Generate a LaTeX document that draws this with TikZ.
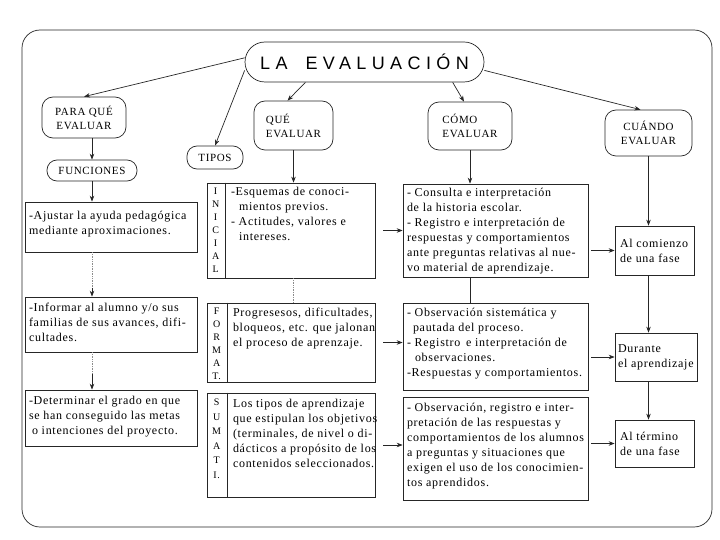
\documentclass[tikz,border=0pt]{standalone}
\usepackage{fontspec}
\setmainfont{Liberation Serif}
\newfontfamily\boxfont[LetterSpace=6]{Liberation Serif}
\newfontfamily\titlefont[LetterSpace=30]{Liberation Sans}
\usetikzlibrary{arrows.meta}
\begin{document}
\begin{tikzpicture}[x=1pt,y=-1pt,
  line width=0.7pt, draw=black!85,
  pill/.style={draw=black!85, rounded corners=#1, inner sep=0pt, font=\boxfont\fontsize{11}{14}\selectfont},
  pill/.default=11pt,
  box/.style={draw=black!85, inner sep=0pt},
  txt/.style={inner sep=0pt, align=left, anchor=north west, font=\boxfont\fontsize{12}{15}\selectfont},
  vl/.style={inner sep=0pt, align=center, anchor=north, font=\boxfont\fontsize{10}{13}\selectfont},
  arr/.style={draw=black!85, -{Stealth[length=6pt,width=4.5pt]}},
  dotl/.style={draw=black!45, densely dotted},
]
\useasboundingbox (0,0) rectangle (720,540);
% frame
\draw[rounded corners=18pt] (22,30) rectangle (712,527);

% title and first-level nodes
\node[pill=20pt, minimum width=239pt, minimum height=40pt, font=\titlefont\fontsize{18}{20}\selectfont, fill=white] (title) at (364.5,62) {LA\hspace{18pt}EVALUACIÓN};
\node[pill, align=center, minimum width=84pt, minimum height=41pt] (paraque) at (84,117.5) {PARA QUÉ\\EVALUAR};
\node[pill=10pt, minimum width=90pt, minimum height=21pt] (funciones) at (92,170.5) {FUNCIONES};
\node[pill=10pt, minimum width=56pt, minimum height=23pt] (tipos) at (215,157.5) {TIPOS};
\node[pill, align=left, minimum width=79pt, minimum height=49pt] (que) at (293.5,125.5) {QUÉ\\EVALUAR};
\node[pill, align=left, minimum width=84pt, minimum height=48pt] (como) at (470,126) {CÓMO\\EVALUAR};
\node[pill, align=center, minimum width=87pt, minimum height=46pt] (cuando) at (648.5,133) {CUÁNDO\\EVALUAR};

% left column boxes
\node[box, minimum width=172pt, minimum height=50pt] (b1) at (111,227) {};
\node[txt] (b1t) at ([xshift=4pt,yshift=-9pt]b1.north west) {-Ajustar la ayuda pedagógica\\mediante aproximaciones.};
\node[box, minimum width=172pt, minimum height=55pt] (b2) at (111,324.5) {};
\node[txt] (b2t) at ([xshift=4pt,yshift=-6pt]b2.north west) {-Informar al alumno y/o sus\\familias de sus avances, difi-\\cultades.};
\node[box, minimum width=172pt, minimum height=56pt] (b3) at (111,418) {};
\node[txt] (b3t) at ([xshift=4pt,yshift=-6pt]b3.north west) {-Determinar el grado en que\\se han conseguido las metas\\\hspace*{3pt}o intenciones del proyecto.};

% tipos boxes
\node[box, minimum width=168pt, minimum height=95pt] (ini) at (291,230.5) {};
\draw ([xshift=19pt]ini.north west) -- ([xshift=19pt]ini.south west);
\node[vl] (inil) at ([xshift=9pt,yshift=-5pt]ini.north west) {I\\N\\I\\C\\I\\A\\L};
\node[txt] (init) at ([xshift=24pt,yshift=-4pt]ini.north west) {-Esquemas de conoci-\\\hspace*{8pt}mientos previos.\\- Actitudes, valores e\\\hspace*{8pt}intereses.};

\node[box, minimum width=168pt, minimum height=79pt] (form) at (291,342.5) {};
\draw ([xshift=21pt]form.north west) -- ([xshift=21pt]form.south west);
\node[vl] (forml) at ([xshift=10pt,yshift=-5pt]form.north west) {F\\O\\R\\M\\A\\T.};
\node[txt] (formt) at ([xshift=26pt,yshift=-5pt]form.north west) {Progresesos, dificultades,\\bloqueos, etc. que jalonan\\el proceso de aprenzaje.};

\node[box, minimum width=168pt, minimum height=104pt] (sum) at (291,445) {};
\draw ([xshift=21pt]sum.north west) -- ([xshift=21pt]sum.south west);
\node[vl, font=\boxfont\fontsize{10}{14.5}\selectfont] (suml) at ([xshift=10pt,yshift=-6pt]sum.north west) {S\\U\\M\\A\\T\\I.};
\node[txt] (sumt) at ([xshift=26pt,yshift=-6pt]sum.north west) {Los tipos de aprendizaje\\que estipulan los objetivos\\(terminales, de nivel o di-\\dácticos a propósito de los\\contenidos seleccionados.};

% como boxes
\node[box, minimum width=185pt, minimum height=93pt] (c1) at (495.5,230.5) {};
\node[txt] (c1t) at ([xshift=4pt,yshift=-4pt]c1.north west) {- Consulta e interpretación\\de la historia escolar.\\- Registro e interpretación de\\respuestas y comportamientos\\ante preguntas relativas al nue-\\vo material de aprendizaje.};
\node[box, minimum width=185pt, minimum height=87pt] (c2) at (495.5,346.5) {};
\node[txt] (c2t) at ([xshift=4pt,yshift=-5pt]c2.north west) {- Observación sistemática y\\\hspace*{6pt}pautada del proceso.\\- Registro\hspace{2pt} e interpretación de\\\hspace*{8pt}observaciones.\\-Respuestas y comportamientos.};
\node[box, minimum width=185pt, minimum height=103pt] (c3) at (495.5,448.5) {};
\node[txt] (c3t) at ([xshift=4pt,yshift=-6pt]c3.north west) {- Observación, registro e inter-\\pretación de las respuestas y\\comportamientos de los alumnos\\a preguntas y situaciones que\\exigen el uso de los conocimien-\\tos aprendidos.};

% cuando boxes
\node[box, minimum width=79pt, minimum height=49pt] (w1) at (654.5,250.5) {};
\node[txt, anchor=west] (w1t) at ([xshift=5pt]w1.west) {Al comienzo\\de una fase};
\node[box, minimum width=82pt, minimum height=48pt] (w2) at (656,357) {};
\node[txt, anchor=west] (w2t) at ([xshift=3pt]w2.west) {Durante\\el aprendizaje};
\node[box, minimum width=79pt, minimum height=47pt] (w3) at (654.5,443.5) {};
\node[txt, anchor=west] (w3t) at ([xshift=5pt]w3.west) {Al término\\de una fase};

% connectors from title
\draw[arr] (title.178) -- (paraque.north);
\draw[arr] (title.184) -- (tipos.north);
\draw[arr] (title.199) -- ([xshift=-6pt]que.north);
\draw[arr] (title.-13) -- ([xshift=-6pt]como.north);
\draw[arr] (title.-4) -- ([xshift=-8pt]cuando.north);

% left column
\draw[arr] (paraque.south -| funciones.north) -- (funciones.north);
\draw[arr] (funciones.south) -- (funciones.south |- b1.north);
\draw[dotl] (funciones.south |- b1.south) -- ([yshift=8pt]funciones.south |- b2.north);
\draw[arr] ([yshift=9pt]funciones.south |- b2.north) -- (funciones.south |- b2.north);
\draw[dotl] (funciones.south |- b2.south) -- ([yshift=14pt]funciones.south |- b3.north);
\draw[arr] ([yshift=16pt]funciones.south |- b3.north) -- (funciones.south |- b3.north);

% middle columns
\draw[arr] (que.south) -- (que.south |- ini.north);
\draw[dotl] (que.south |- ini.south) -- (que.south |- form.north);
\draw[arr] (como.south) -- (como.south |- c1.north);
\draw (como.south |- c1.south) -- (como.south |- c2.north);
\draw[arr, shorten <=8pt] (ini.east) -- (ini.east -| c1.west);
\draw[arr, shorten <=8pt] (form.east) -- (form.east -| c2.west);
\draw[arr, shorten <=8pt] (sum.east) -- (sum.east -| c3.west);

% cuando column
\draw[arr] (cuando.south) -- (cuando.south |- w1.north);
\draw[arr] (cuando.south |- w1.south) -- (cuando.south |- w2.north);
\draw[arr] (cuando.south |- w2.south) -- (cuando.south |- w3.north);
\draw[arr, shorten <=3pt] (c1.east |- w1.west) -- (w1.west);
\draw[arr, shorten <=3pt] (c2.east |- w2.west) -- (w2.west);
\draw[arr, shorten <=3pt] (c3.east |- w3.west) -- (w3.west);
\end{tikzpicture}
\end{document}
